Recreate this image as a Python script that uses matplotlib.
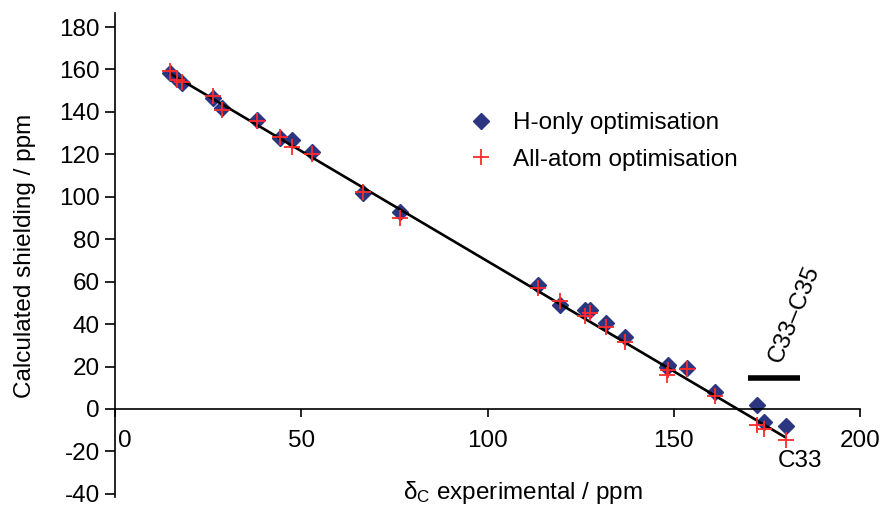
import numpy as np
import matplotlib
matplotlib.use("Agg")
import matplotlib.pyplot as plt
from matplotlib.lines import Line2D
import matplotlib.transforms as mtrans

plt.rcParams['font.family'] = ['Liberation Sans', 'DejaVu Sans']

# Experimental carbon shifts (ppm)
delta_exp = [14.8, 16.6, 17.9, 26.3, 28.7, 38.0, 44.3, 47.5, 52.8, 66.6, 76.5,
             113.6, 119.5, 126.2, 127.5, 131.8, 136.9, 148.5, 148.3, 153.5,
             161.1, 172.3, 174.1, 180.0]
# Calculated shielding, H-only optimisation
h_only = [158.3, 155.5, 153.6, 146.5, 141.8, 136.0, 127.6, 126.8, 121.3, 101.8, 93.0,
          58.4, 49.0, 46.5, 46.5, 40.4, 34.0, 20.7, 20.0, 19.2,
          8.2, 1.9, -6.0, -7.9]
# Calculated shielding, all-atom optimisation
all_atom = [159.1, 155.2, 154.0, 147.5, 141.0, 135.5, 128.3, 123.6, 120.3, 102.2, 89.9,
            56.9, 50.8, 44.0, 45.0, 38.6, 31.7, 18.4, 16.0, 18.6,
            5.9, -7.5, -9.5, -14.6]

x_ticks = [0, 50, 100, 150, 200]
y_ticks = [-40, -20, 0, 20, 40, 60, 80, 100, 120, 140, 160, 180]
series_labels = ["H-only optimisation", "All-atom optimisation"]
bracket_range = [170.0, 183.9]
bracket_level = 14.6

W, H = 889, 509
fig = plt.figure(figsize=(W / 100, H / 100), dpi=100)
ax = fig.add_axes([115 / W, 12 / H, 745 / W, 484 / H])
ax.set_xlim(0, 200)
ax.set_ylim(-41.5, 186.6)

FS = 17.5
navy = '#2B3580'
red = '#FF2A2A'

x = np.array(delta_exp)
ya = np.array(all_atom)
coef = np.polyfit(x, ya, 1)
xl = np.array([x.min(), x.max()])
ax.plot(xl, np.polyval(coef, xl), color='black', lw=1.9, zorder=3)

ax.plot(delta_exp, h_only, linestyle='none', marker='D', ms=7.8, color=navy,
        mec=navy, zorder=2)
ax.plot(delta_exp, all_atom, linestyle='none', marker='+', ms=11.5, mew=1.3,
        color=red, zorder=4)

# spines
for s in ['top', 'right']:
    ax.spines[s].set_visible(False)
ax.spines['bottom'].set_position(('data', 0))
ax.spines['left'].set_linewidth(1.2)
ax.spines['bottom'].set_linewidth(1.2)

ax.set_xticks(x_ticks)
ax.set_yticks(y_ticks)
ax.set_xticklabels([str(v) for v in x_ticks])
ax.set_yticklabels([str(v) for v in y_ticks])
ax.tick_params(axis='x', direction='out', length=6, width=1.2, pad=9, labelsize=FS)
ax.tick_params(axis='y', direction='out', length=7, width=1.2, pad=4, labelsize=FS)
lbl0 = ax.get_xticklabels()[0]
lbl0.set_transform(lbl0.get_transform() + mtrans.ScaledTranslation(10 / 100, 0, fig.dpi_scale_trans))

fig.text(523 / W, 1 - 493 / H, r'$\mathregular{\delta_C}$ experimental / ppm',
         ha='center', va='center', fontsize=FS)
fig.text(25 / W, 1 - 256 / H, 'Calculated shielding / ppm', rotation=90,
         ha='center', va='center', fontsize=FS)

# annotations
ax.plot(bracket_range, [bracket_level, bracket_level], color='black', lw=4,
        solid_capstyle='butt', zorder=3)
ax.text(182.3, 44.5, 'C33\u2013C35', rotation=68, ha='center', va='center', fontsize=FS)
ax.text(183.9, -24.5, 'C33', ha='center', va='center', fontsize=FS)

handles = [Line2D([], [], linestyle='none', marker='D', ms=7.8, color=navy),
           Line2D([], [], linestyle='none', marker='+', ms=11.5, mew=1.3, color=red)]
fig.legend(handles, series_labels, loc='upper left',
           bbox_to_anchor=(469 / W, 1 - 112 / H), bbox_transform=fig.transFigure,
           frameon=False, fontsize=FS, handlelength=1.0, handletextpad=0.8,
           borderpad=0, borderaxespad=0, labelspacing=0.6)

fig.savefig('out.png', dpi=100)
